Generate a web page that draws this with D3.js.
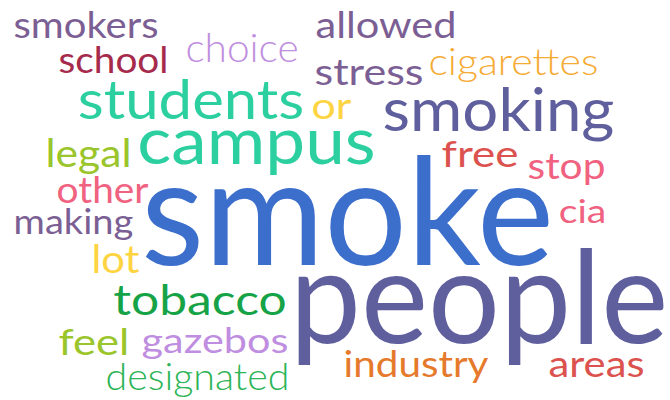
<!DOCTYPE html>
<html>
<head>
<meta charset="utf-8">
<script src="https://cdn.jsdelivr.net/npm/d3@7"></script>
<style>
  body { margin: 0; background: #fff; }
  text { font-family: Lato, "Open Sans", sans-serif; }
</style>
</head>
<body>
<div class="cloud"></div>
<script>
var width = 670, height = 400;

// words and their weights (drive the font size)
var words = ["smoke", "people", "campus", "smoking", "students", "tobacco", "choice",
    "legal", "school", "allowed", "other", "free", "designated", "lot", "stress",
    "areas", "or", "industry", "feel", "stop", "gazebos", "cigarettes", "making",
    "cia", "smokers"];
var counts = [150, 130, 66, 60, 54, 42, 40, 38, 37, 37, 37, 37, 37, 39, 37,
    37, 36, 36, 36, 36, 35, 38, 35, 33, 37];
var colors = ["#3c6ecc", "#5f5f9e", "#2ccf9f", "#5f5f9e", "#2ccf9f", "#16a347", "#c08ee0",
    "#9ac52b", "#a62a4b", "#7b5f94", "#f0627f", "#dc524e", "#2cb457", "#fed443", "#7b5f94",
    "#dc524e", "#fed443", "#e67a2c", "#9ac52b", "#f0627f", "#c08ee0", "#f6ab35", "#7b5f94",
    "#f0627f", "#7b5f94"];
var weights = [400, 400, 400, 400, 400, 400, 300, 400, 400, 400, 400, 400, 300, 400, 400,
    400, 400, 400, 400, 400, 400, 300, 400, 400, 400];

// layout of the cloud: left edge, right edge and baseline of each word
var xLeft = [147, 295, 140, 385, 80, 115, 187, 47, 60, 317, 58, 443, 107, 93, 316,
    550, 313, 345, 60, 529, 143, 430, 15, 560, 15];
var xRight = [548, 663, 373, 612, 302, 285, 297, 130, 167, 455, 147, 517, 288, 138, 422,
    643, 350, 487, 128, 604, 287, 597, 132, 605, 157];
var baseline = [265, 343, 164, 131, 119, 315, 62, 167, 73, 38, 203, 167, 390, 273, 85,
    377, 119, 377, 355, 179, 353, 75, 234, 223, 38];

var svg = d3
    .select(".cloud")
    .append("svg")
    .attr("width", width)
    .attr("height", height);

var x = d3.scaleLinear().domain([0, 670]).range([0, width]);
var y = d3.scaleLinear().domain([0, 400]).range([0, height]);
var size = d3.scaleLinear().domain([0, d3.max(counts)]).range([0, 150]);

var data = words.map((w, i) => ({
    text: w,
    count: counts[i],
    color: colors[i],
    weight: weights[i],
    x0: xLeft[i],
    x1: xRight[i],
    y: baseline[i]
}));

svg.selectAll("text")
    .data(data)
    .enter()
    .append("text")
    .attr("x", (d) => x(d.x0) - size(d.count) * 0.04)
    .attr("y", (d) => y(d.y))
    .attr("textLength", (d) => x(d.x1) - x(d.x0) + size(d.count) * 0.08)
    .attr("lengthAdjust", "spacingAndGlyphs")
    .style("font-size", (d) => `${size(d.count)}px`)
    .style("font-weight", (d) => d.weight)
    .style("fill", (d) => d.color)
    .text((d) => d.text);
</script>
</body>
</html>
